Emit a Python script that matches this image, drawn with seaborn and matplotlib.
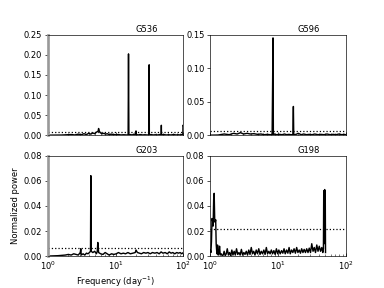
import pandas as pd
import seaborn as sns
import matplotlib.pyplot as plt

# Periodogramme, Werte
g536_freq = [1.0, 1.6, 2.2, 2.5, 2.8, 3.1, 3.4, 3.7, 4.0, 4.3, 4.6, 4.9, 5.2, 5.5, 5.6, 5.7, 5.8, 6.0,
             6.3, 6.7, 7.1, 7.5, 8.0, 8.6, 9.2, 10.0, 11.0, 12.0, 13.2, 14.4, 15.3, 15.5, 15.7, 16.5,
             17.5, 18.8, 19.8, 20.0, 20.2, 21.5, 23.0, 25.0, 27.0, 29.0, 31.1, 31.3, 31.5, 33.0, 36.0,
             39.0, 42.0, 45.0, 47.2, 47.4, 47.6, 51.0, 56.0, 61.0, 66.0, 72.0, 78.0, 84.0, 90.0, 95.0,
             98.6, 99.0, 100.0]
g536_power = [0.0005, 0.0008, 0.002, 0.001, 0.003, 0.0015, 0.004, 0.002, 0.005, 0.003, 0.006, 0.004,
              0.008, 0.010, 0.017, 0.012, 0.009, 0.006, 0.004, 0.005, 0.003, 0.004, 0.002, 0.003, 0.002,
              0.0015, 0.002, 0.001, 0.0015, 0.001, 0.001, 0.202, 0.001, 0.002, 0.001, 0.003, 0.002,
              0.011, 0.002, 0.001, 0.002, 0.001, 0.0015, 0.001, 0.001, 0.175, 0.001, 0.002, 0.001,
              0.0015, 0.001, 0.002, 0.001, 0.025, 0.001, 0.002, 0.001, 0.0015, 0.001, 0.002, 0.001,
              0.0015, 0.001, 0.002, 0.001, 0.025, 0.024]

g596_freq = [1.0, 1.3, 1.6, 1.9, 2.2, 2.5, 2.8, 3.1, 3.5, 3.9, 4.4, 5.0, 5.6, 6.3, 7.0, 7.6, 8.2, 8.45,
             8.55, 8.8, 9.5, 10.5, 11.5, 12.5, 13.5, 14.5, 15.5, 16.6, 16.9, 17.1, 17.4, 18.5, 20.0,
             22.0, 24.0, 26.5, 29.0, 32.0, 35.0, 39.0, 43.0, 48.0, 53.0, 59.0, 65.0, 72.0, 80.0, 88.0,
             95.0, 100.0]
g596_power = [0.0003, 0.0005, 0.002, 0.001, 0.003, 0.002, 0.004, 0.002, 0.003, 0.002, 0.0025, 0.0015,
              0.002, 0.001, 0.0015, 0.001, 0.001, 0.145, 0.001, 0.002, 0.001, 0.0015, 0.001, 0.002,
              0.001, 0.0015, 0.001, 0.001, 0.043, 0.002, 0.001, 0.0015, 0.003, 0.001, 0.002, 0.001,
              0.0015, 0.001, 0.002, 0.001, 0.0015, 0.001, 0.002, 0.001, 0.0015, 0.001, 0.002, 0.001,
              0.0015, 0.001]

g203_freq = [1.0, 1.4, 1.8, 2.0, 2.2, 2.4, 2.6, 2.8, 3.0, 3.05, 3.1, 3.3, 3.5, 3.7, 3.9, 4.1, 4.25, 4.3,
             4.35, 4.6, 4.9, 5.2, 5.35, 5.45, 5.6, 6.0, 6.5, 7.0, 7.5, 8.0, 8.7, 9.4, 10.2, 11.0, 12.0,
             13.0, 14.0, 15.2, 16.5, 18.0, 19.5, 20.0, 21.0, 22.5, 24.0, 26.0, 28.0, 30.0, 32.5, 35.0,
             38.0, 41.0, 44.0, 47.0, 50.0, 54.0, 58.0, 62.0, 66.0, 70.0, 75.0, 80.0, 85.0, 90.0, 95.0,
             100.0]
g203_power = [0.0002, 0.0005, 0.001, 0.0015, 0.001, 0.002, 0.0015, 0.001, 0.003, 0.006, 0.001, 0.002,
              0.001, 0.0025, 0.002, 0.003, 0.004, 0.064, 0.004, 0.003, 0.004, 0.002, 0.004, 0.011,
              0.003, 0.002, 0.0015, 0.003, 0.002, 0.001, 0.002, 0.0015, 0.002, 0.003, 0.002, 0.0025,
              0.002, 0.003, 0.002, 0.0025, 0.003, 0.005, 0.003, 0.0025, 0.002, 0.003, 0.0025, 0.003,
              0.002, 0.003, 0.0025, 0.003, 0.002, 0.0035, 0.0025, 0.003, 0.002, 0.0035, 0.0025, 0.003,
              0.002, 0.003, 0.0025, 0.003, 0.002, 0.003]

g198_freq = [1.00, 1.02, 1.04, 1.06, 1.08, 1.10, 1.12, 1.14, 1.16, 1.18,
             1.20, 1.22, 1.25, 1.28, 1.31, 1.34, 1.37, 1.40, 1.45, 1.50,
             1.55, 1.60, 1.66, 1.72, 1.78, 1.85, 1.92, 2.00, 2.08, 2.16,
             2.25, 2.34, 2.44, 2.54, 2.65, 2.76, 2.88, 3.00, 3.13, 3.26,
             3.40, 3.55, 3.70, 3.86, 4.03, 4.20, 4.38, 4.57, 4.77, 4.98,
             5.20, 5.43, 5.67, 5.92, 6.18, 6.45, 6.73, 7.02, 7.33, 7.65,
             7.98, 8.33, 8.70, 9.08, 9.48, 9.90, 10.3, 10.8, 11.3, 11.8,
             12.3, 12.8, 13.4, 14.0, 14.6, 15.2, 15.9, 16.6, 17.3, 18.1,
             18.9, 19.7, 20.6, 21.5, 22.4, 23.4, 24.4, 25.5, 26.6, 27.8,
             29.0, 30.3, 31.6, 33.0, 34.4, 35.9, 37.5, 39.1, 40.8, 42.6,
             44.5, 46.0, 47.0, 47.5, 48.0, 48.5, 49.0, 49.5, 50.0, 50.5]
g198_power = [0.005, 0.003, 0.012, 0.030, 0.028, 0.024, 0.045, 0.050, 0.030, 0.027,
              0.029, 0.010, 0.002, 0.009, 0.001, 0.003, 0.008, 0.001, 0.002, 0.0005,
              0.001, 0.004, 0.0005, 0.002, 0.006, 0.001, 0.003, 0.0005, 0.005, 0.001,
              0.004, 0.001, 0.006, 0.0015, 0.003, 0.001, 0.0055, 0.001, 0.003, 0.0015,
              0.004, 0.001, 0.005, 0.0015, 0.007, 0.002, 0.004, 0.001, 0.005, 0.002,
              0.006, 0.0015, 0.004, 0.002, 0.005, 0.0015, 0.007, 0.002, 0.004, 0.002,
              0.005, 0.002, 0.0045, 0.0015, 0.006, 0.002, 0.005, 0.002, 0.0045, 0.0025,
              0.006, 0.002, 0.005, 0.0025, 0.007, 0.002, 0.005, 0.003, 0.006, 0.0025,
              0.007, 0.003, 0.005, 0.0025, 0.006, 0.003, 0.0055, 0.003, 0.006, 0.003,
              0.0065, 0.003, 0.010, 0.004, 0.007, 0.003, 0.009, 0.004, 0.008, 0.004,
              0.007, 0.003, 0.006, 0.052, 0.010, 0.040, 0.053, 0.050, 0.052, 0.003]

names = ["G536", "G596", "G203", "G198"]
freqs = [g536_freq, g596_freq, g203_freq, g198_freq]
powers = [g536_power, g596_power, g203_power, g198_power]
thresholds = [0.008, 0.007, 0.007, 0.022]
ylims = [0.25, 0.15, 0.08, 0.08]

fig, axes = plt.subplots(2, 2, sharex=True, figsize=(6.4, 4.8), dpi=60)

for i, ax in enumerate(axes.flat):
    df = pd.DataFrame({"freq": freqs[i], "power": powers[i]})
    sns.lineplot(x="freq", y="power", data=df, color="k", estimator=None, linewidth=1.7, ax=ax)
    ax.axhline(thresholds[i], color="k", ls=":", lw=1.5)
    ax.set_xscale("log")
    ax.set_xlim(1, 100)
    ax.set_ylim(0, ylims[i])
    ax.set_xlabel("")
    ax.set_ylabel("")
    ax.tick_params(axis="x", which="both", direction="in")
    ax.text(0.73, 1.01, names[i], transform=ax.transAxes, ha="center", va="bottom")

axes[0, 0].set_yticks([0, 0.05, 0.10, 0.15, 0.20, 0.25])
axes[0, 1].set_yticks([0, 0.05, 0.10, 0.15])
axes[1, 0].set_yticks([0, 0.02, 0.04, 0.06, 0.08])
axes[1, 1].set_yticks([0, 0.02, 0.04, 0.06, 0.08])

# linke Spalte: grauer Rand wie im Original
for ax in axes[:, 0]:
    ax.spines["left"].set_color("0.6")
    ax.spines["left"].set_linewidth(3.2)

axes[1, 0].set_xlabel("Frequency (day$^{-1}$)")
axes[1, 0].set_ylabel("Normalized power")

plt.savefig("out.png")
